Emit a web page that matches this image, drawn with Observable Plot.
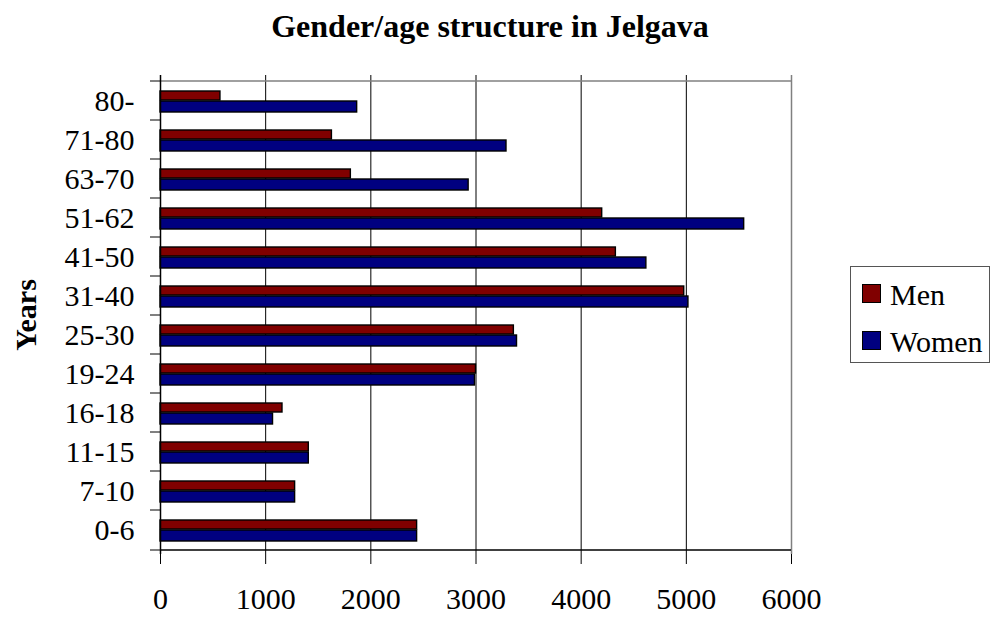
<!DOCTYPE html>
<html><head><meta charset="utf-8">
<script src="https://cdn.jsdelivr.net/npm/d3@7"></script>
<script src="https://cdn.jsdelivr.net/npm/@observablehq/plot@0.6"></script>
<style>
body{margin:0;background:#fff;}
#wrap{position:relative;width:991px;height:617px;font-family:"Liberation Serif","Times New Roman",serif;color:#000;}
#title{position:absolute;left:0;width:980px;top:8px;text-align:center;font-weight:bold;font-size:32px;line-height:36px;}
#legend{position:absolute;left:850px;top:266px;width:140px;height:97px;border:1px solid #555;box-sizing:border-box;font-size:30px;}
.sw{position:absolute;left:11px;width:17px;height:17px;border:1px solid #000;}
.lab{position:absolute;left:39px;line-height:30px;}
</style></head>
<body>
<div id="wrap">
<div id="chart"></div>
<div id="title">Gender/age structure in Jelgava</div>
<div id="legend"></div>
</div>
<script>
const ageGroups = ["0-6","7-10","11-15","16-18","19-24","25-30","31-40","41-50","51-62","63-70","71-80","80-"];
const men   = [2440,1280,1410,1160,3000,3360,4980,4330,4200,1810,1630,570];
const women = [2440,1280,1410,1070,2990,3390,5020,4620,5550,2930,3290,1870];
const xTicks = [0,1000,2000,3000,4000,5000,6000];
const seriesNames = ["Men","Women"];
const seriesColors = ["#800000","#000080"];

const data = ageGroups.map((a,i)=>({age:a, men:men[i], women:women[i]}));
const font = "Liberation Serif, Times New Roman, serif";
const topGroup = ageGroups[ageGroups.length-1];

const chart = Plot.plot({
  width:991, height:617,
  marginLeft:160, marginRight:200, marginTop:75, marginBottom:63,
  x:{domain:[0,6000], ticks:xTicks},
  y:{domain:ageGroups.slice().reverse(), padding:0},
  style:{fontFamily:font, fontSize:"30px", color:"#000", background:"#fff"},
  marks:[
    Plot.gridX(xTicks.slice(1,-1), {stroke:"#000", strokeOpacity:1}),
    Plot.ruleX([6000], {stroke:"#808080", strokeWidth:1.5}),
    Plot.ruleY([topGroup], {x1:0, x2:6000, dy:-20, stroke:"#808080", strokeWidth:1.5}),
    Plot.barX(data, {y:"age", x:"men", fill:seriesColors[0], stroke:"#000", strokeWidth:1.4, insetTop:10, insetBottom:20}),
    Plot.barX(data, {y:"age", x:"women", fill:seriesColors[1], stroke:"#000", strokeWidth:1.4, insetTop:20, insetBottom:8}),
    Plot.ruleX([0], {stroke:"#000", strokeWidth:1.5}),
    Plot.ruleY([ageGroups[0]], {x1:0, x2:6000, dy:20, stroke:"#000", strokeWidth:1.5}),
    Plot.axisY({tickSize:0, tickPadding:26, label:null, fontSize:30}),
    Plot.axisY({tickSize:10, tickFormat:()=>"", dy:-20, label:null}),
    Plot.axisY([ageGroups[0]], {tickSize:10, tickFormat:()=>"", dy:20, label:null}),
    Plot.axisX({tickSize:10, tickPadding:23, label:null, fontSize:30, tickFormat:d=>String(d)}),
    Plot.text(["Years"], {frameAnchor:"left", textAnchor:"middle", rotate:-90, dx:-134, fontWeight:"bold", fontSize:30})
  ]
});
document.getElementById("chart").appendChild(chart);

const lg = document.getElementById("legend");
seriesNames.forEach((n,i)=>{
  const sw = document.createElement("div");
  sw.className="sw";
  sw.style.background = seriesColors[i];
  sw.style.top = (17 + i*47) + "px";
  lg.appendChild(sw);
  const lb = document.createElement("div");
  lb.className="lab";
  lb.textContent = n;
  lb.style.top = (13 + i*47) + "px";
  lg.appendChild(lb);
});
</script>
</body></html>
